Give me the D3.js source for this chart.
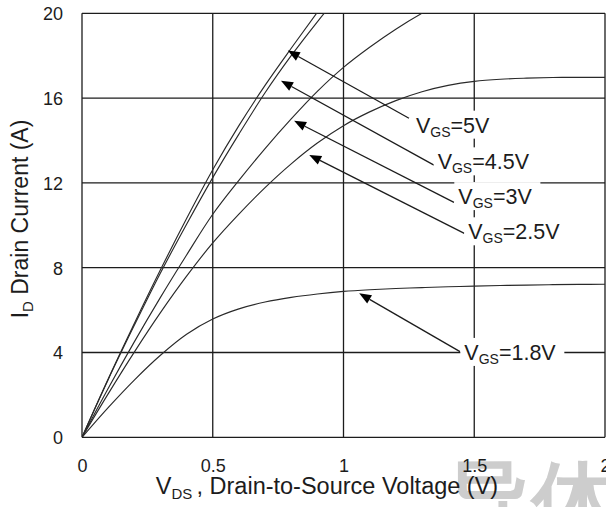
<!DOCTYPE html>
<html>
<head>
<meta charset="utf-8">
<script src="https://cdn.jsdelivr.net/npm/d3@7/dist/d3.min.js"></script>
<style>
  html, body { margin: 0; padding: 0; background: #fff; }
  svg { display: block; }
  text { font-family: "Liberation Sans", Arial, sans-serif; }
</style>
</head>
<body>
<svg id="chart" width="606" height="507"></svg>
<script>
// Output characteristics: drain current vs drain-to-source voltage
const vdsSteps = [0, 0.1, 0.2, 0.3, 0.4, 0.5, 0.6, 0.7, 0.8, 0.9, 1.0,
                  1.1, 1.2, 1.3, 1.4, 1.5, 1.6, 1.7, 1.8, 1.9, 2.0];

const vgsNames = ["5V", "4.5V", "3V", "2.5V", "1.8V"];

// drain current (A) at each VDS step, one array per gate voltage
const idVgs5   = [0, 2.75, 5.37, 7.9, 10.32, 12.62, 14.7, 16.6, 18.35, 20.05, 21.7];
const idVgs4p5 = [0, 2.72, 5.28, 7.75, 10.05, 12.25, 14.3, 16.25, 18.0, 19.6, 21.1];
const idVgs3   = [0, 2.3, 4.5, 6.6, 8.6, 10.52, 12.12, 13.62, 15.02, 16.32, 17.45,
                  18.4, 19.25, 20.0, 20.65];
const idVgs2p5 = [0, 2.05, 4.02, 5.88, 7.6, 9.17, 10.53, 11.78, 12.9, 13.88, 14.7,
                  15.35, 15.88, 16.3, 16.6, 16.79, 16.89, 16.94, 16.97, 16.98, 16.98];
const idVgs1p8 = [0, 1.4, 2.7, 3.87, 4.86, 5.58, 6.06, 6.38, 6.6, 6.76, 6.88,
                  6.96, 7.02, 7.06, 7.1, 7.13, 7.16, 7.18, 7.2, 7.21, 7.22];

const xTicks = [0, 0.5, 1, 1.5, 2];
const xTickLabels = ["0", "0.5", "1", "1.5", "2"];
const yTicks = [0, 4, 8, 12, 16, 20];
const yTickLabels = ["0", "4", "8", "12", "16", "20"];

// callouts in axis units: arrow tip, arrow tail, label anchor (VDS, ID)
const calloutTips  = [[0.787, 18.24], [0.761, 16.82], [0.811, 14.93], [0.869, 13.32], [1.060, 6.79]];
const calloutTails = [[1.2505, 15.05], [1.346, 12.84], [1.4225, 11.08], [1.462, 9.62], [1.4455, 4.04]];
const calloutText  = [[1.277, 14.37], [1.360, 12.64], [1.439, 11.0], [1.477, 9.34], [1.462, 3.65]];

const seriesValues = [idVgs5, idVgs4p5, idVgs3, idVgs2p5, idVgs1p8];

const svg = d3.select("#chart");
const ink = "#1c1c1c";

const x = d3.scaleLinear().domain([0, 2]).range([82, 605]);
const y = d3.scaleLinear().domain([0, 20]).range([437.3, 13.3]);

// faint watermark lettering in the lower-right corner
svg.append("text")
  .attr("x", 446).attr("y", 531)
  .attr("font-family", "'Noto Sans CJK SC', sans-serif")
  .attr("font-size", 86)
  .attr("font-weight", 700)
  .attr("fill", "#cdcdcd")
  .text("导体");

// grid
const grid = svg.append("g").attr("stroke", ink).attr("stroke-width", 1.3);
grid.selectAll("line.v").data(xTicks).join("line")
  .attr("x1", d => x(d)).attr("x2", d => x(d))
  .attr("y1", y(0)).attr("y2", y(20));
grid.selectAll("line.h").data(yTicks).join("line")
  .attr("y1", d => y(d)).attr("y2", d => y(d))
  .attr("x1", x(0)).attr("x2", x(2));

// axis tick labels
const xAxis = d3.axisBottom(x).tickValues(xTicks)
  .tickFormat((d, i) => xTickLabels[i]).tickSize(0).tickPadding(0);
const gx = svg.append("g").attr("transform", "translate(0,459)").call(xAxis);
gx.select(".domain").remove();
gx.selectAll("text").attr("font-size", 18).attr("fill", ink)
  .attr("font-family", "'Liberation Sans', Arial, sans-serif").attr("dy", "0.71em");

const yAxis = d3.axisLeft(y).tickValues(yTicks)
  .tickFormat((d, i) => yTickLabels[i]).tickSize(0).tickPadding(0);
const gy = svg.append("g").attr("transform", "translate(63,0)").call(yAxis);
gy.select(".domain").remove();
gy.selectAll("text").attr("font-size", 18).attr("fill", ink)
  .attr("font-family", "'Liberation Sans', Arial, sans-serif").attr("dy", "0.36em");

// curves, clipped to the plot frame
svg.append("clipPath").attr("id", "plotClip").append("rect")
  .attr("x", x(0)).attr("y", y(20)).attr("width", x(2) - x(0)).attr("height", y(0) - y(20));
const line = d3.line()
  .x(d => x(d[0])).y(d => y(d[1]))
  .curve(d3.curveCatmullRom.alpha(0.5));
svg.append("g").attr("clip-path", "url(#plotClip)")
  .selectAll("path").data(seriesValues).join("path")
  .attr("d", vals => line(vals.map((v, i) => [vdsSteps[i], v])))
  .attr("fill", "none").attr("stroke", "#2a2a2a").attr("stroke-width", 1.15);

// callout arrows
const arrows = svg.append("g");
calloutTips.forEach((tip, i) => {
  const tx = x(tip[0]), ty = y(tip[1]);
  const sx = x(calloutTails[i][0]), sy = y(calloutTails[i][1]);
  const ang = Math.atan2(ty - sy, tx - sx);
  const len = 12, hw = 4.8;
  const bx = tx - len * Math.cos(ang), by = ty - len * Math.sin(ang);
  arrows.append("line")
    .attr("x1", sx).attr("y1", sy).attr("x2", bx).attr("y2", by)
    .attr("stroke", ink).attr("stroke-width", 1.3);
  const px = -Math.sin(ang) * hw, py = Math.cos(ang) * hw;
  arrows.append("path")
    .attr("d", `M${tx},${ty}L${bx + px},${by + py}L${bx - px},${by - py}Z`)
    .attr("fill", "#000");
});

// callout labels on white panels that interrupt the grid
const labelLayer = svg.append("g");
const labels = vgsNames.map((name, i) => {
  const t = labelLayer.append("text")
    .attr("x", x(calloutText[i][0])).attr("y", y(calloutText[i][1]))
    .attr("font-size", 21.5).attr("fill", ink);
  t.append("tspan").text("V");
  t.append("tspan").attr("font-size", 14).attr("dy", 4).text("GS");
  t.append("tspan").attr("dy", -4).text("=" + name);
  return t;
});
labels.forEach((t, i) => {
  const b = t.node().getBBox();
  const base = y(calloutText[i][1]);
  labelLayer.insert("rect", "text")
    .attr("x", b.x - 4).attr("y", base - 22)
    .attr("width", b.width + 12).attr("height", 28)
    .attr("fill", "#fff");
});

// axis titles
const xt = svg.append("text").attr("x", 327).attr("y", 494)
  .attr("text-anchor", "middle").attr("font-size", 23.5).attr("fill", ink);
xt.append("tspan").text("V");
xt.append("tspan").attr("font-size", 15).attr("dy", 5).text("DS ");
xt.append("tspan").attr("dy", -5).text(", Drain-to-Source Voltage (V)");

const yt = svg.append("text").attr("transform", "translate(28,219) rotate(-90)")
  .attr("text-anchor", "middle").attr("font-size", 23).attr("fill", ink);
yt.append("tspan").text("I");
yt.append("tspan").attr("font-size", 15).attr("dy", 5).text("D");
yt.append("tspan").attr("dy", -5).text(" Drain Current (A)");
</script>
</body>
</html>
